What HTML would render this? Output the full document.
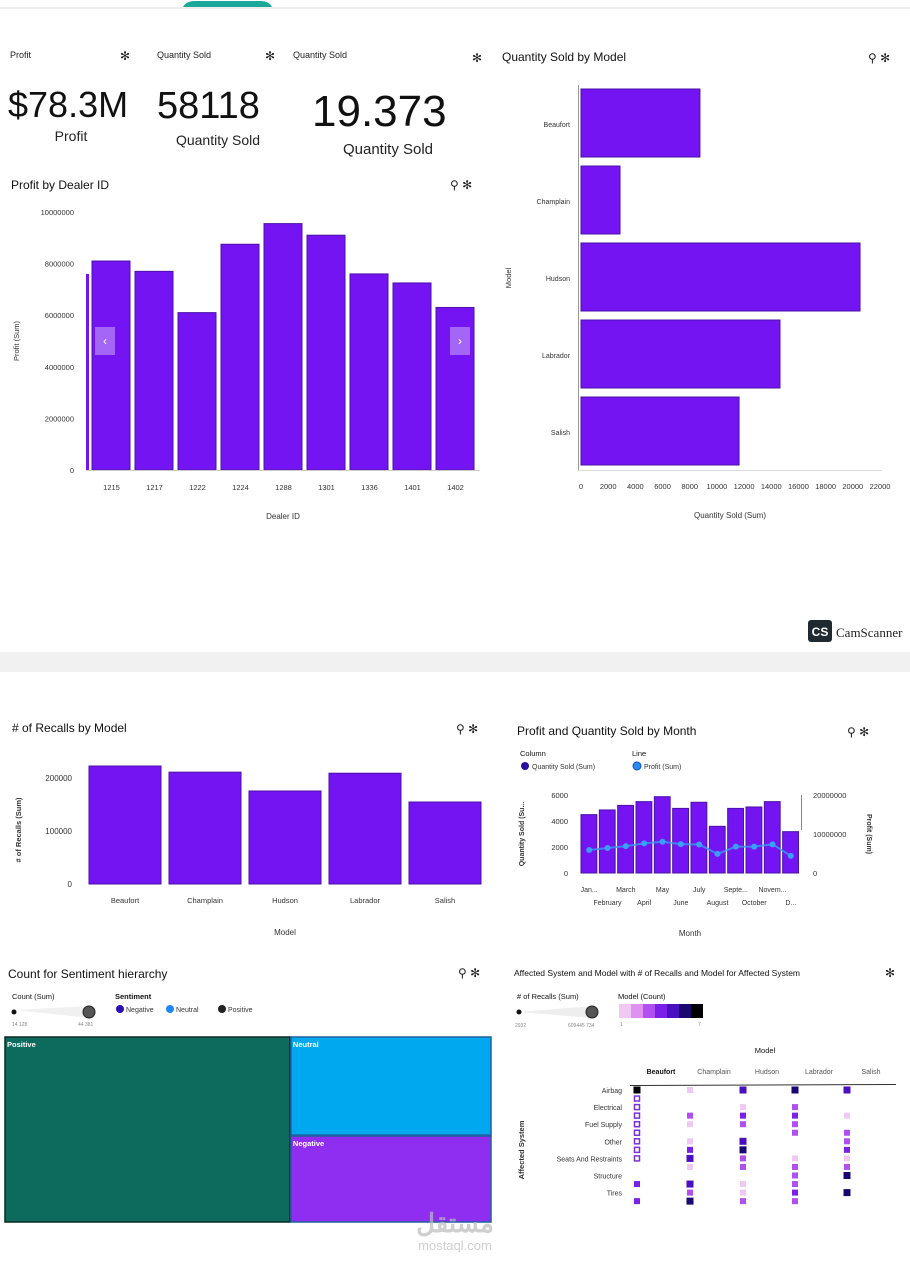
<!DOCTYPE html>
<html><head><meta charset="utf-8"><style>
html,body{margin:0;padding:0;background:#fff;width:910px;height:1280px;overflow:hidden}
svg{display:block;font-family:"Liberation Sans","Noto Sans CJK SC",sans-serif}
</style></head><body>
<svg id="s" width="910" height="1280" viewBox="0 0 910 1280">
<rect x="0" y="0" width="910" height="1280" fill="#fff"/>
<line x1="0" y1="8" x2="910" y2="8" stroke="#e8e8e8" stroke-width="1.5"/>
<path d="M183 7 Q186 1 195 1 L260 1 Q269 1 272 7 Z" fill="#1aa89a"/>
<rect x="0" y="652" width="910" height="20" fill="#f1f1f1"/>
<g>
<rect x="808" y="620" width="24" height="22" rx="3" fill="#1f2a30"/>
<text x="820" y="636" font-size="12" font-weight="bold" fill="#fff" text-anchor="middle">CS</text>
<text x="836" y="637" font-size="13" fill="#222" font-family="Liberation Serif,serif">CamScanner</text>
</g>
<g font-size="9" fill="#222">
<text x="10" y="58">Profit</text>
<text x="157" y="58">Quantity Sold</text>
<text x="293" y="58">Quantity Sold</text>
<text x="120" y="60" font-size="12">✻</text>
<text x="265" y="60" font-size="12">✻</text>
<text x="472" y="62" font-size="12">✻</text>
</g>
<text x="8" y="117" font-size="36" fill="#111">$78.3M</text>
<text x="71" y="141" font-size="14" fill="#222" text-anchor="middle">Profit</text>
<text x="157" y="118" font-size="38" fill="#111">58118</text>
<text x="218" y="145" font-size="14" fill="#222" text-anchor="middle">Quantity Sold</text>
<text x="312" y="126" font-size="44" fill="#111">19.373</text>
<text x="388" y="154" font-size="15" fill="#222" text-anchor="middle">Quantity Sold</text>
<text x="11" y="189" font-size="12" fill="#111">Profit by Dealer ID</text>
<text x="450" y="189" font-size="12" fill="#222">⚲ ✻</text>
<text x="502" y="61" font-size="12" fill="#111">Quantity Sold by Model</text>
<text x="868" y="62" font-size="12" fill="#222">⚲ ✻</text>
<text x="12" y="732" font-size="12" fill="#111"># of Recalls by Model</text>
<text x="456" y="733" font-size="12" fill="#222">⚲ ✻</text>
<text x="517" y="735" font-size="12" fill="#111">Profit and Quantity Sold by Month</text>
<text x="847" y="736" font-size="12" fill="#222">⚲ ✻</text>
<text x="8" y="978" font-size="12" fill="#111">Count for Sentiment hierarchy</text>
<text x="458" y="977" font-size="12" fill="#222">⚲ ✻</text>
<text x="514" y="976" font-size="8.5" fill="#111">Affected System and Model with # of Recalls and Model for Affected System</text>
<text x="885" y="977" font-size="12" fill="#222">✻</text>
<g id="charts"></g>
<g fill="#bbb" opacity="0.7">
<text x="455" y="1232" font-size="26" font-weight="bold" text-anchor="middle">مستقل</text>
<text x="455" y="1250" font-size="13" text-anchor="middle">mostaql.com</text>
</g>
</svg>
<script>
const dealerIds=["1215","1217","1222","1224","1288","1301","1336","1401","1402"];
const dealerProfit=[8100000,7700000,6100000,8750000,9550000,9100000,7600000,7250000,6300000];
const profitTicks=[0,2000000,4000000,6000000,8000000,10000000];
const models=["Beaufort","Champlain","Hudson","Labrador","Salish"];
const modelQty=[8750,2870,20530,14640,11630];
const qtyTicks=[0,2000,4000,6000,8000,10000,12000,14000,16000,18000,20000,22000];
const modelRecalls=[222600,211000,175500,209000,154700];
const recallTicks=[0,100000,200000];
const months=["Jan...","February","March","April","May","June","July","August","Septe...","October","Novem...","D..."];
const monthQty=[4490,4850,5200,5490,5870,4970,5440,3590,4970,5080,5490,3180];
const monthProfit=[5900000,6400000,6900000,7600000,8000000,7400000,7300000,4900000,6750000,6750000,7350000,4400000];
const monthQtyTicks=[0,2000,4000,6000];
const monthProfitTicks=[0,10000000,20000000];
const sentiments=["Positive","Neutral","Negative"];
const sentimentCounts=[44381,16600,14720];
const systems=["Airbag","Electrical","Fuel Supply","Other","Seats And Restraints","Structure","Tires"];
const cellCols=[0,0,0,0,0,0,0,0,0,0,0, 1,1,1,1,1,1,1,1,1,1, 2,2,2,2,2,2,2,2,2,2,2, 3,3,3,3,3,3,3,3,3,3,3, 4,4,4,4,4,4,4,4,4];
const cellRows=[0,1,2,3,4,5,6,7,8,11,13, 0,3,4,6,7,8,9,11,12,13, 0,2,3,4,6,7,8,9,11,12,13, 0,2,3,4,5,8,9,10,11,12,13, 0,3,5,6,7,8,9,10,12];
const cellLevels=[7,-1,-1,-1,-1,-1,-1,-1,-1,4,4, 1,3,1,1,4,5,1,5,3,6, 5,1,4,3,5,6,3,3,1,1,3, 6,3,4,3,3,1,3,3,3,4,3, 5,1,3,3,4,1,3,6,6];

const NS="http://www.w3.org/2000/svg";const G=document.getElementById("charts");
function el(t,a,p){const e=document.createElementNS(NS,t);for(const k in a)e.setAttribute(k,a[k]);(p||G).appendChild(e);return e;}
function tx(x,y,s,a,p){const e=el("text",Object.assign({x:x,y:y,"font-size":8,fill:"#333"},a||{}),p);e.textContent=s;return e;}
const BAR="#7414f2",BS="#4b12a8";

(function(){const g=el("g",{});
const x0=90,bw=43,y=v=>470-v/10000000*258;
profitTicks.forEach(t=>{const l=tx(74,y(t)+3,String(t),{"text-anchor":"end","font-size":7.5},g);});
el("rect",{x:86,y:y(7600000),width:3,height:470-y(7600000),fill:BAR},g);
dealerProfit.forEach((v,i)=>{const r=el("rect",{x:x0+i*bw+2,y:y(v),width:bw-5,height:470-y(v),fill:BAR,stroke:BS,"stroke-width":1},g);

const l=tx(x0+i*bw+bw/2,490,dealerIds[i],{"text-anchor":"middle","font-size":7.5},g);});
el("line",{x1:86,y1:470.5,x2:480,y2:470.5,stroke:"#ccc"},g);
const t=tx(283,519,"Dealer ID",{"text-anchor":"middle","font-size":8},g);
const yt=tx(0,0,"Profit (Sum)",{"text-anchor":"middle","font-size":7.5,transform:"translate(19,341) rotate(-90)"},g);
[[95,"‹"],[450,"›"]].forEach(([x,c])=>{const b=el("rect",{x:x,y:327,width:20,height:28,fill:"#fff",opacity:0.35},g);tx(x+10,345,c,{"text-anchor":"middle","font-size":12,fill:"#fff"},g);});
})();

(function(){const g=el("g",{});
const x=v=>581+v/22000*299,bh=77;
modelQty.forEach((v,i)=>{const yy=89+i*bh;const r=el("rect",{x:581,y:yy,width:x(v)-581,height:68,fill:BAR,stroke:BS,"stroke-width":1},g);

const l=tx(570,yy+38,models[i],{"text-anchor":"end","font-size":7},g);});
el("line",{x1:578,y1:470.5,x2:882,y2:470.5,stroke:"#ddd"},g);
el("line",{x1:578.5,y1:85,x2:578.5,y2:470,stroke:"#999"},g);
qtyTicks.forEach(t=>{const l=tx(x(t),489,String(t),{"text-anchor":"middle","font-size":7.5},g);});
const a=tx(730,518,"Quantity Sold (Sum)",{"text-anchor":"middle","font-size":8},g);
const b=tx(0,0,"Model",{"text-anchor":"middle","font-size":7.5,transform:"translate(511,278) rotate(-90)"},g);
})();

(function(){const g=el("g",{});
const y=v=>884-v/200000*106,bw=80;
recallTicks.forEach(t=>{const l=tx(72,y(t)+3,String(t),{"text-anchor":"end","font-size":8},g);});
modelRecalls.forEach((v,i)=>{const r=el("rect",{x:89+i*bw,y:y(v),width:72,height:884-y(v),fill:BAR,stroke:BS,"stroke-width":1},g);

const l=tx(125+i*bw,903,models[i],{"text-anchor":"middle","font-size":7.5},g);});
const a=tx(285,935,"Model",{"text-anchor":"middle","font-size":8},g);
const b=tx(0,0,"# of Recalls (Sum)",{"text-anchor":"middle","font-size":7.5,"font-weight":"bold",transform:"translate(21,830) rotate(-90)"},g);
})();

(function(){const g=el("g",{});
tx(520,756,"Column",{"font-size":7.5,fill:"#111"},g);tx(632,756,"Line",{"font-size":7.5,fill:"#111"},g);
const l1=el("circle",{cx:525,cy:766,r:4,fill:"#2a0fa0"},g);
tx(532,769,"Quantity Sold (Sum)",{"font-size":7},g);
const l2=el("circle",{cx:637,cy:766,r:4,fill:"#2a8af0",stroke:"#1450c0"},g);
tx(644,769,"Profit (Sum)",{"font-size":7},g);
const x0=580,bw=220/12,y=v=>873-v/6000*78,yp=v=>873-v/20000000*78;
monthQtyTicks.forEach(t=>{const l=tx(568,y(t)+3,String(t),{"text-anchor":"end","font-size":7.5},g);});
monthProfitTicks.forEach(t=>{const l=tx(813,yp(t)+3,String(t),{"font-size":7.5},g);});
el("line",{x1:801.5,y1:795,x2:801.5,y2:830,stroke:"#888"},g);
monthQty.forEach((v,i)=>{const r=el("rect",{x:x0+i*bw+1,y:y(v),width:bw-2.5,height:873-y(v),fill:BAR,stroke:BS,"stroke-width":1},g);

const l=tx(x0+i*bw+bw/2,i%2?905:892,months[i],{"text-anchor":"middle","font-size":7},g);});
const pts=monthProfit.map((v,i)=>[x0+i*bw+bw/2,yp(v)]);
const pl=el("polyline",{points:pts.map(p=>p.join(",")).join(" "),fill:"none",stroke:"#3a9af5","stroke-width":2,opacity:0.8},g);
pts.forEach((p,i)=>{const c=el("circle",{cx:p[0],cy:p[1],r:3,fill:"#3aa0ff"},g);});
const a=tx(690,936,"Month",{"text-anchor":"middle","font-size":8},g);
const b=tx(0,0,"Quantity Sold (Su...",{"text-anchor":"middle","font-size":7,"font-weight":"bold",transform:"translate(524,834) rotate(-90)"},g);
const c=tx(0,0,"Profit (Sum)",{"text-anchor":"middle","font-size":7,"font-weight":"bold",transform:"translate(867,834) rotate(90)"},g);
})();

(function(){const g=el("g",{});
tx(12,999,"Count (Sum)",{"font-size":7.5,fill:"#111"},g);tx(115,999,"Sentiment",{"font-size":7.5,fill:"#111","font-weight":"bold"},g);
el("path",{d:"M14 1010 L90 1006 L90 1018 Z",fill:"#f0f0f0"},g);el("circle",{cx:14,cy:1012,r:2.5,fill:"#111"},g);el("circle",{cx:89,cy:1012,r:6,fill:"#555",stroke:"#222"},g);
tx(12,1026,"14 128",{"font-size":5,fill:"#888"},g);tx(78,1026,"44 381",{"font-size":5,fill:"#888"},g);
[["#2a12b0","Negative",120],["#1e88f0","Neutral",170],["#222","Positive",222]].forEach(([c,n,x])=>{const d=el("circle",{cx:x,cy:1009,r:4,fill:c},g);tx(x+6,1012,n,{"font-size":7},g);});
const tot=sentimentCounts[0]+sentimentCounts[1]+sentimentCounts[2];const X=5,Y=1037,W=486,H=185;
const w0=W*sentimentCounts[0]/tot;const rest=sentimentCounts[1]+sentimentCounts[2];const h1=H*sentimentCounts[1]/rest;
const cells=[[X,Y,w0,H,"#0d6b5e"],[X+w0+1,Y,W-w0-1,h1,"#00a8f0"],[X+w0+1,Y+h1+1,W-w0-1,H-h1-1,"#8f2ef0"]];
cells.forEach((c,i)=>{const r=el("rect",{x:c[0],y:c[1],width:c[2],height:c[3],fill:c[4],stroke:i==0?"#0a2a22":"#2060a0","stroke-width":1.5},g);

tx(c[0]+2,c[1]+10,sentiments[i],{"font-size":7.5,fill:"#fff","font-weight":"bold"},g);});
})();

(function(){const g=el("g",{});
tx(517,999,"# of Recalls (Sum)",{"font-size":7.5,fill:"#111"},g);tx(618,999,"Model (Count)",{"font-size":7.5,fill:"#111"},g);
el("path",{d:"M518 1012 L593 1006 L593 1018 Z",fill:"#eee"},g);el("circle",{cx:519,cy:1012,r:2.5,fill:"#111"},g);el("circle",{cx:592,cy:1012,r:6,fill:"#555",stroke:"#222"},g);
tx(515,1027,"2932",{"font-size":5,fill:"#888"},g);tx(568,1027,"609445 734",{"font-size":5,fill:"#888"},g);
const scale=["#f8e8f8","#f0c8f4","#e090f0","#b050f0","#7a20e8","#4a10c0","#1a0870","#000"];
for(let i=1;i<8;i++)el("rect",{x:607+i*12,y:1004,width:12,height:14,fill:scale[i]},g);
tx(620,1026,"1",{"font-size":5,fill:"#888"},g);tx(698,1026,"7",{"font-size":5,fill:"#888"},g);
tx(765,1053,"Model",{"text-anchor":"middle","font-size":7.5,fill:"#111"},g);
const cx=[637,690,743,795,847];
models.forEach((m,i)=>{const l=tx(cx[i]+24,1074,m,{"text-anchor":"middle","font-size":7,"font-weight":i==0?"bold":"normal",fill:i==0?"#111":"#555"},g);});
el("line",{x1:630,y1:1085.5,x2:896,y2:1084.5,stroke:"#333"},g);
systems.forEach((s,i)=>{const l=tx(622,1093+i*17.1,s,{"text-anchor":"end","font-size":7},g);});
const b=tx(0,0,"Affected System",{"text-anchor":"middle","font-size":7.5,"font-weight":"bold",transform:"translate(524,1150) rotate(-90)"},g);
cellCols.forEach((c,i)=>{const lv=cellLevels[i];const yy=1090+cellRows[i]*8.55;const sz=lv>=5?7:6;
let r;if(lv<0){r=el("rect",{x:cx[c]-2.5,y:yy-2.5,width:5,height:5,fill:"#fff",stroke:"#7a30e0","stroke-width":1.5},g);}
else r=el("rect",{x:cx[c]-sz/2,y:yy-sz/2,width:sz,height:sz,fill:scale[lv]},g);
});
})();
</script>
</body></html>
